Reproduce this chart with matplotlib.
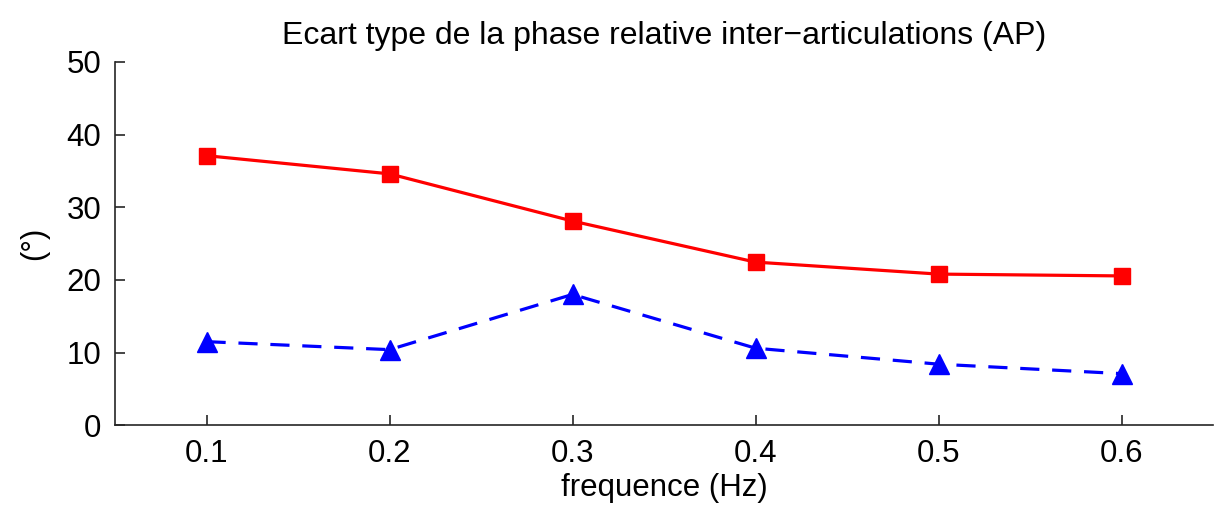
import numpy as np
import matplotlib
matplotlib.use("Agg")
import matplotlib.pyplot as plt

plt.rcParams['font.family'] = ['Liberation Sans', 'DejaVu Sans']

# Frequencies and standard deviations of the relative phase
freq = [0.1, 0.2, 0.3, 0.4, 0.5, 0.6]
sd_red = [37.1, 34.6, 28.1, 22.45, 20.8, 20.55]
sd_blue = [11.5, 10.4, 18.0, 10.6, 8.4, 7.1]

xticks = [0.1, 0.2, 0.3, 0.4, 0.5, 0.6]
yticks = [0, 10, 20, 30, 40, 50]

fig = plt.figure(figsize=(12.29, 5.08), dpi=100)
ax = fig.add_axes([0.0936, 0.163, 0.8934, 0.715])

ax.plot(freq, sd_red, color='#ff0000', lw=2.3, marker='s', ms=11, mec='#ff0000')
ax.plot(freq, sd_blue, color='#0000ff', lw=2.3, ls=(0, (6, 4)), marker='^', ms=15,
        mec='#0000ff')

ax.set_xlim(0.05, 0.65)
ax.set_ylim(0, 50)
ax.set_xticks(xticks)
ax.set_xticklabels([f"{v:.1f}" for v in xticks])
ax.set_yticks(yticks)

for side in ['top', 'right']:
    ax.spines[side].set_visible(False)
for side in ['left', 'bottom']:
    ax.spines[side].set_color('#262626')
    ax.spines[side].set_linewidth(1.2)

ax.tick_params(direction='in', length=7, width=1.2, color='#262626',
               labelsize=22.5, pad=10)

ax.set_xlabel('frequence (Hz)', fontsize=22.5, labelpad=3)
ax.set_ylabel('(°)', fontsize=22.5, labelpad=12)
ax.set_title('Ecart type de la phase relative inter\u2212articulations (AP)',
             fontsize=23, pad=13)

fig.savefig('out.png', dpi=100)
